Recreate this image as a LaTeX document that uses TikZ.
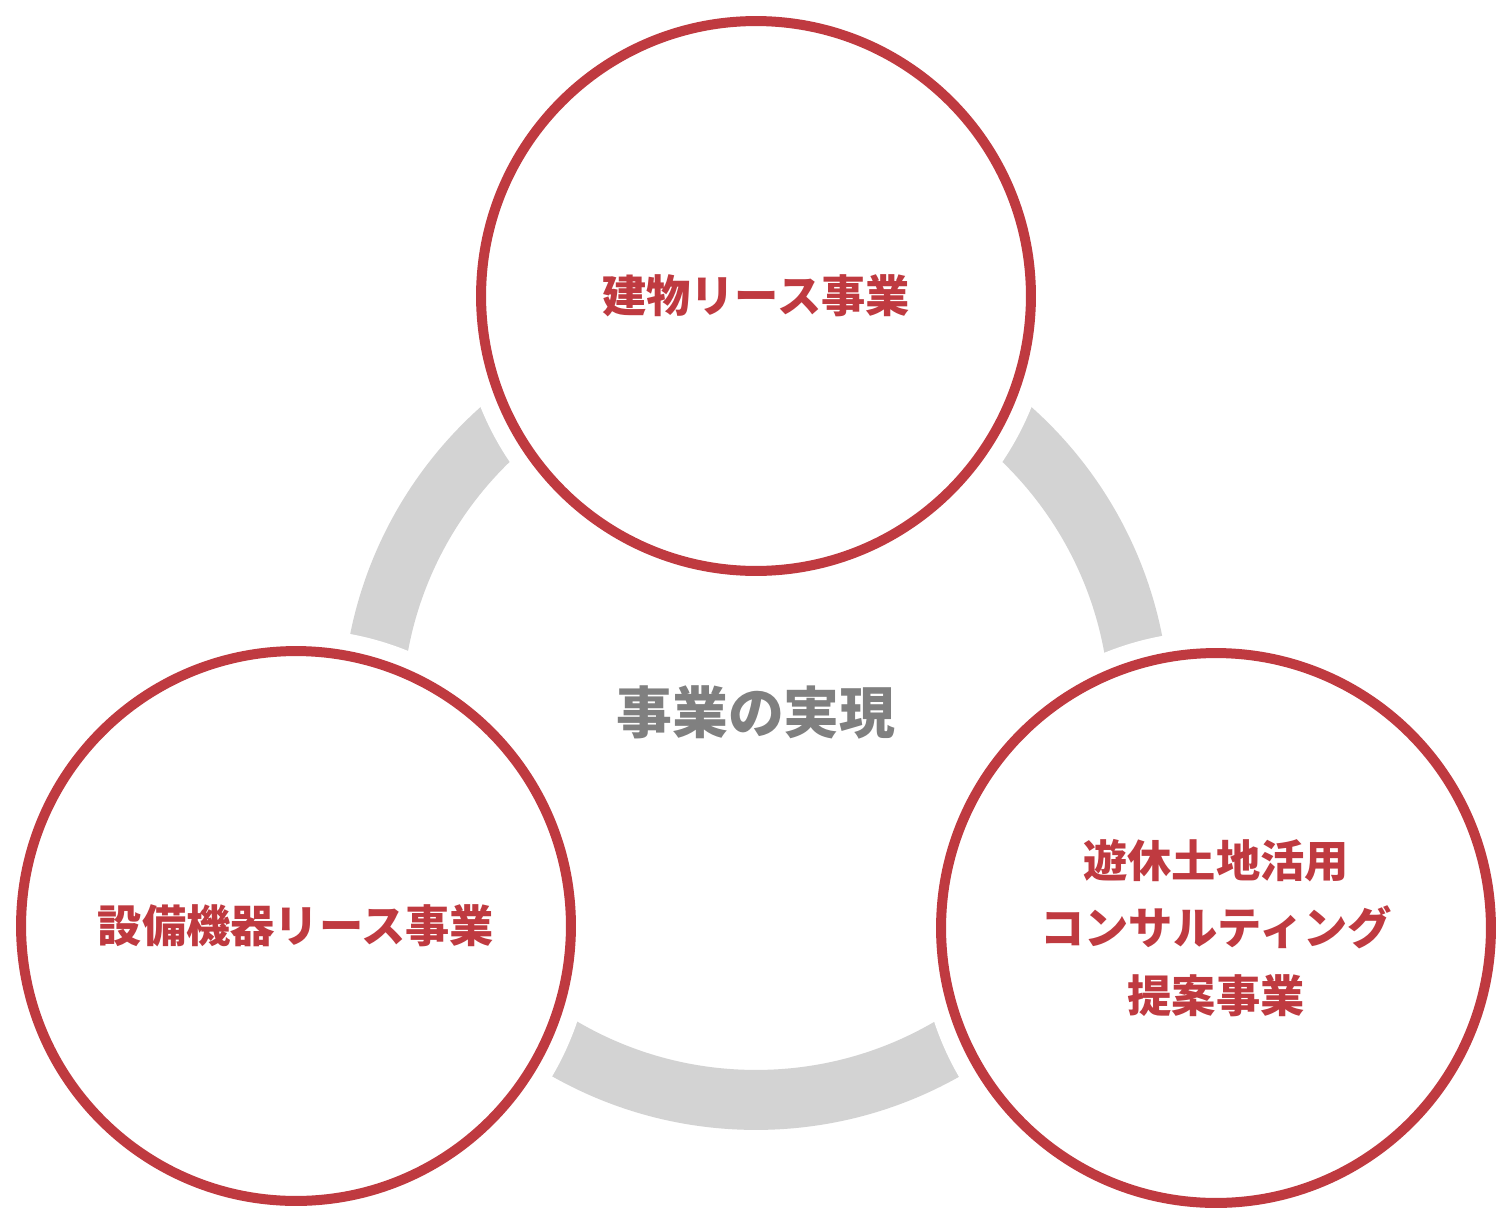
\documentclass[tikz,border=0pt]{standalone}
\usepackage{fontspec}
\usepackage{xcolor,tikz}
\usetikzlibrary{positioning}
\newfontfamily\cjk{Noto Sans CJK JP}
\definecolor{wine}{HTML}{BF3A40}
\definecolor{ringgray}{HTML}{D3D3D3}
\definecolor{txtgray}{HTML}{808080}
\tikzset{biz/.style={circle,draw=wine,line width=0.2cm,fill=white,
  preaction={draw=white,line width=0.88cm},minimum size=11cm,inner sep=0pt,
  align=center,text=wine,font=\cjk\bfseries\fontsize{25.2}{38.5}\selectfont},
  ring/.style={draw=ringgray,line width=1.2cm}}

\begin{document}
\begin{tikzpicture}[x=0.02cm,y=-0.02cm]
\useasboundingbox (0,0) rectangle (1512,1224);
\coordinate (mid) at (756,716);
\draw[ring] (mid) circle[radius=7.68cm];
\node[txtgray,font=\cjk\bfseries\fontsize{31.8}{40}\selectfont] (goal) at (756,712) {事業の実現};
\node[biz] (bldg) at (756,296) {建物リース事業};
\node[biz] (equip) at (296,926) {設備機器リース事業};
\node[biz] (land) at (1216,928) {遊休土地活用\\コンサルティング\\提案事業};
\end{tikzpicture}
\end{document}
